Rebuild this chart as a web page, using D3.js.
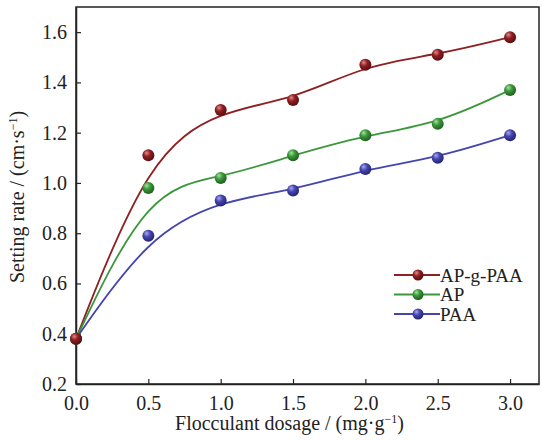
<!DOCTYPE html>
<html>
<head>
<meta charset="utf-8">
<script src="https://cdn.jsdelivr.net/npm/d3@7"></script>
<style>
  html, body { margin: 0; padding: 0; background: #fff; }
  svg { display: block; }
</style>
</head>
<body>
<svg id="chart" width="542" height="441" font-family="Liberation Serif"></svg>
<script>
// Flocculant dosage (mg/g) and settling rate (cm/s) for each flocculant
const dosage = [0, 0.5, 1.0, 1.5, 2.0, 2.5, 3.0];
const apgpaa = [0.38, 1.11, 1.29, 1.33, 1.47, 1.51, 1.58];
const ap     = [0.38, 0.98, 1.02, 1.11, 1.19, 1.235, 1.37];
const paa    = [0.38, 0.79, 0.93, 0.97, 1.055, 1.10, 1.19];
const seriesNames = ["AP-g-PAA", "AP", "PAA"];
const xTicks = [0, 0.5, 1.0, 1.5, 2.0, 2.5, 3.0];
const yTicks = [0.2, 0.4, 0.6, 0.8, 1.0, 1.2, 1.4, 1.6];

const FONT = "Liberation Serif";
const INK = "#222";

const series = [
  { name: seriesNames[0], values: apgpaa, color: "#8e1f22", light: "#e08a8a", dark: "#5a0c0e" },
  { name: seriesNames[1], values: ap,     color: "#3a983a", light: "#a8e0a0", dark: "#1f5f1f" },
  { name: seriesNames[2], values: paa,    color: "#4545b0", light: "#a8a8ee", dark: "#24246e" }
];

const svg = d3.select("#chart");
const m = { left: 76, right: 539, top: 7, bottom: 384 };

const x = d3.scaleLinear().domain([0, 3.2]).range([m.left, m.right]);
const y = d3.scaleLinear().domain([0.2, 1.7]).range([m.bottom, m.top]);

// shaded sphere gradients for markers
const defs = svg.append("defs");
series.forEach((s, i) => {
  const g = defs.append("radialGradient")
    .attr("id", "ball" + i)
    .attr("cx", "40%").attr("cy", "35%").attr("r", "65%")
    .attr("fx", "35%").attr("fy", "30%");
  g.append("stop").attr("offset", "0%").attr("stop-color", s.light);
  g.append("stop").attr("offset", "45%").attr("stop-color", s.color);
  g.append("stop").attr("offset", "100%").attr("stop-color", s.dark);
});

// frame
svg.append("rect")
  .attr("x", m.left).attr("y", m.top)
  .attr("width", m.right - m.left).attr("height", m.bottom - m.top)
  .attr("fill", "none").attr("stroke", INK).attr("stroke-width", 1.5);

// axes with inward ticks
const xAxis = svg.append("g")
  .attr("transform", `translate(0,${m.bottom})`)
  .call(d3.axisBottom(x).tickValues(xTicks).tickFormat(d3.format(".1f"))
    .tickSizeInner(-5).tickSizeOuter(0).tickPadding(9));
const yAxis = svg.append("g")
  .attr("transform", `translate(${m.left},0)`)
  .call(d3.axisLeft(y).tickValues(yTicks).tickFormat(d3.format(".1f"))
    .tickSizeInner(-5).tickSizeOuter(0).tickPadding(9));

[xAxis, yAxis].forEach(a => {
  a.attr("font-family", FONT).attr("font-size", 20);
  a.select(".domain").attr("stroke", INK).attr("stroke-width", 1.5);
  a.selectAll(".tick line").attr("stroke", INK).attr("stroke-width", 1.2);
  a.selectAll(".tick text")
    .attr("font-family", FONT).attr("font-size", 20).attr("fill", INK);
});
xAxis.selectAll(".tick text").attr("dy", "0.85em");

// axis titles
svg.append("text")
  .attr("x", (m.left + m.right) / 2 - 18).attr("y", 430)
  .attr("text-anchor", "middle")
  .attr("font-family", FONT).attr("font-size", 20).attr("fill", INK)
  .html('Flocculant dosage / (mg·g<tspan dy="-7" font-size="12">−1</tspan><tspan dy="7">)</tspan>');

svg.append("text")
  .attr("transform", "translate(24,197) rotate(-90)")
  .attr("text-anchor", "middle")
  .attr("font-family", FONT).attr("font-size", 20).attr("fill", INK)
  .html('Setting rate / (cm·s<tspan dy="-7" font-size="12">−1</tspan><tspan dy="7">)</tspan>');

// smoothed curves and markers
const line = d3.line()
  .x((d, i) => x(dosage[i]))
  .y(d => y(d))
  .curve(d3.curveBasis);

series.forEach((s, i) => {
  svg.append("path")
    .attr("d", line(s.values))
    .attr("fill", "none")
    .attr("stroke", s.color)
    .attr("stroke-width", 1.8);
});

series.slice().reverse().forEach((s, ri) => {
  const i = series.length - 1 - ri;
  svg.append("g").selectAll("circle")
    .data(s.values)
    .join("circle")
    .attr("cx", (d, k) => x(dosage[k]))
    .attr("cy", d => y(d))
    .attr("r", 6)
    .attr("fill", `url(#ball${i})`);
});

// legend
const legend = svg.append("g");
series.forEach((s, i) => {
  const ly = 275 + i * 19.5;
  legend.append("line")
    .attr("x1", 394).attr("x2", 440).attr("y1", ly).attr("y2", ly)
    .attr("stroke", s.color).attr("stroke-width", 1.8);
  legend.append("circle")
    .attr("cx", 418).attr("cy", ly).attr("r", 5.5)
    .attr("fill", `url(#ball${i})`);
  legend.append("text")
    .attr("x", 440).attr("y", ly + 6.5)
    .attr("font-family", FONT).attr("font-size", 19).attr("fill", INK)
    .text(s.name);
});
</script>
</body>
</html>
